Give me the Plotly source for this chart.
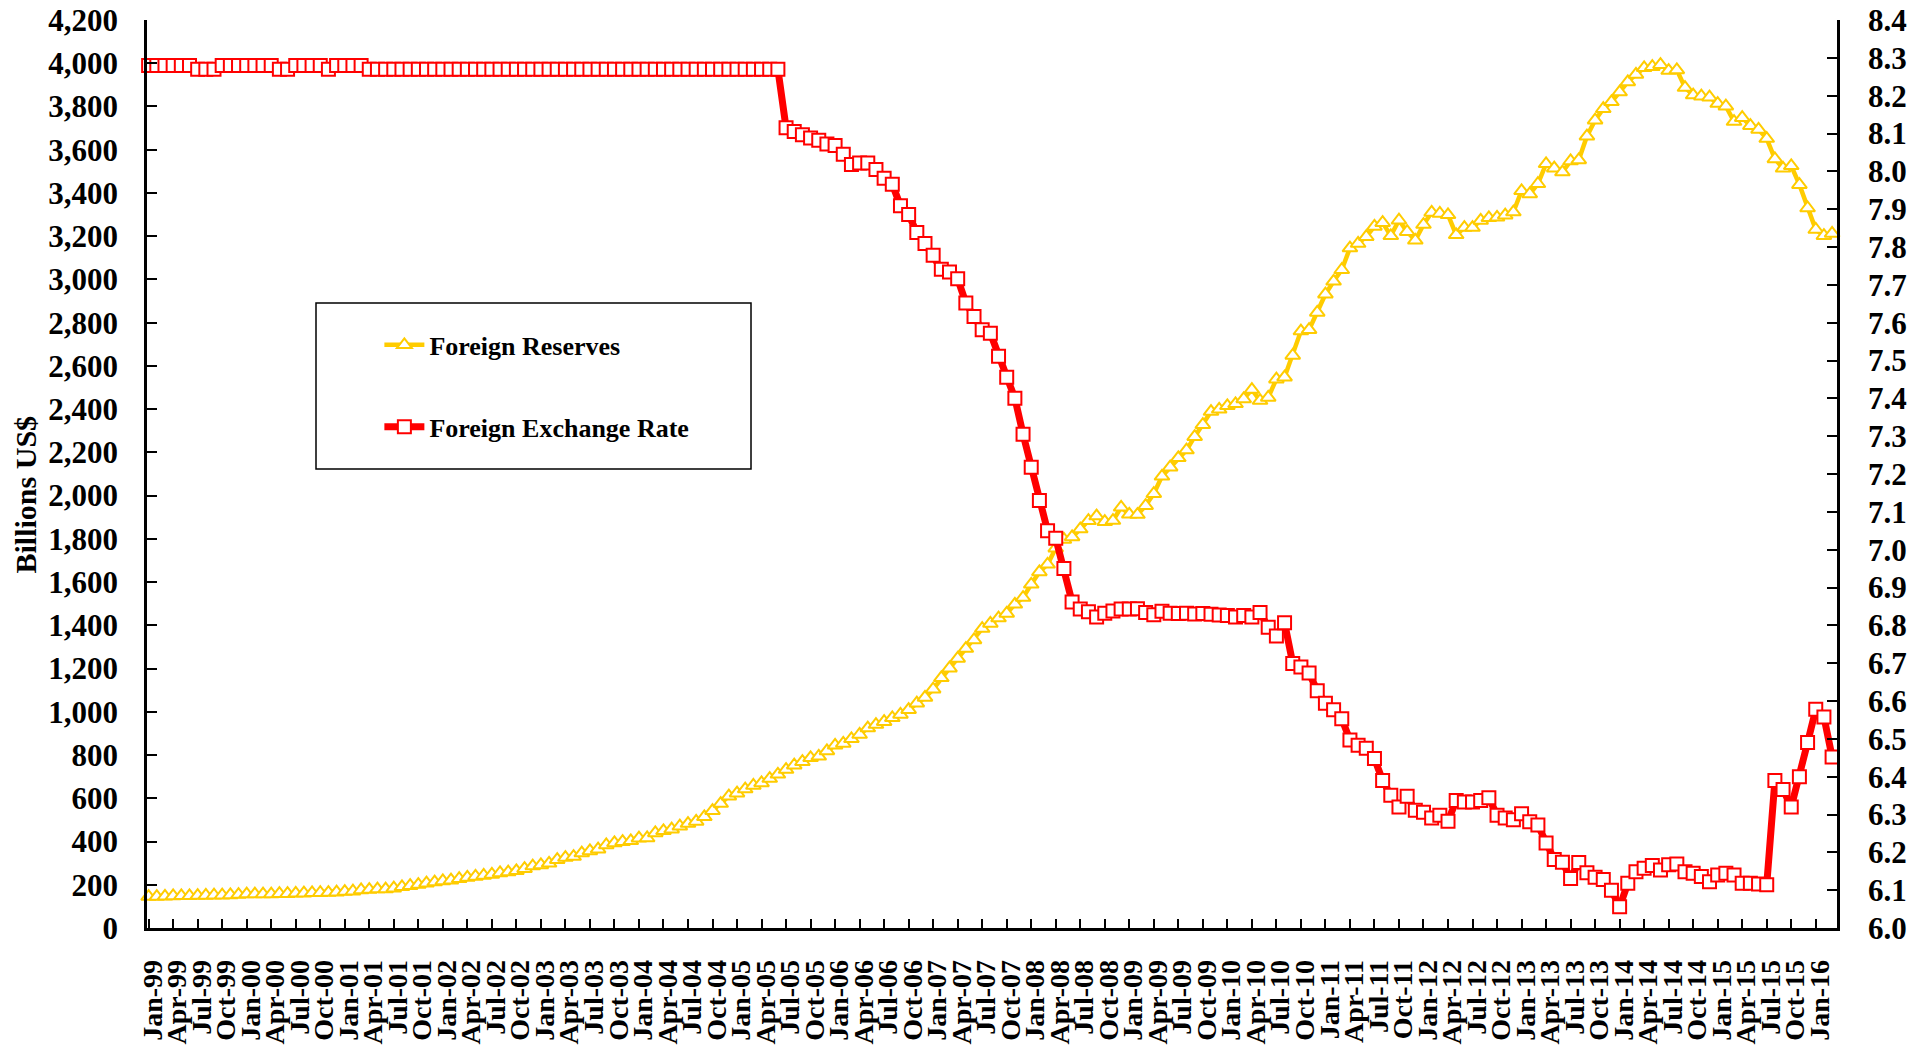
import pandas as pd
import plotly.graph_objects as go

# Foreign reserves, billions US$ (monthly, Jan-99 .. Mar-16)
reserves = [
    145.3, 145.5, 146.6, 148.1, 149.0, 149.0, 149.9, 150.9, 151.5, 152.0, 153.1, 154.7,
    156.8, 156.9, 157.0, 157.0, 158.7, 158.6, 160.5, 161.3, 162.9, 163.0, 163.7, 165.6,
    168.3, 170.0, 175.8, 178.0, 180.0, 180.1, 184.4, 190.4, 195.9, 201.1, 207.4, 212.2,
    217.5, 221.3, 227.8, 233.8, 238.6, 242.8, 248.0, 254.9, 258.6, 264.3, 274.2, 286.4,
    291.8, 299.3, 316.1, 326.0, 330.5, 346.5, 356.5, 364.7, 383.9, 393.7, 399.1, 403.3,
    415.7, 416.3, 439.8, 449.6, 457.3, 470.6, 483.0, 492.8, 514.5, 542.7, 575.4, 609.9,
    623.6, 642.6, 659.1, 670.9, 691.0, 711.0, 732.7, 753.3, 769.0, 787.2, 794.2, 818.9,
    845.2, 853.7, 875.1, 895.0, 925.0, 941.1, 954.5, 972.0, 987.9, 1009.6, 1040.0, 1066.3,
    1104.7, 1157.4, 1202.0, 1246.7, 1292.7, 1332.6, 1385.2, 1408.6, 1433.6, 1454.9, 1497.0, 1528.2,
    1589.8, 1647.1, 1682.2, 1756.7, 1797.0, 1808.8, 1845.2, 1884.3, 1905.6, 1879.7, 1884.7, 1946.0,
    1913.5, 1912.1, 1953.7, 2008.8, 2089.5, 2131.6, 2174.6, 2210.8, 2272.6, 2328.3, 2388.8, 2399.2,
    2415.2, 2424.6, 2447.1, 2490.5, 2439.5, 2454.3, 2538.6, 2547.8, 2648.3, 2760.9, 2767.8, 2847.3,
    2931.7, 2991.4, 3044.7, 3145.2, 3166.2, 3197.5, 3245.3, 3262.5, 3201.7, 3273.8, 3220.8, 3181.1,
    3253.6, 3309.7, 3305.0, 3298.9, 3206.1, 3240.0, 3239.9, 3272.9, 3285.1, 3287.4, 3297.4, 3311.6,
    3410.0, 3395.4, 3442.6, 3534.5, 3514.8, 3496.7, 3547.8, 3553.0, 3662.7, 3736.6, 3789.5, 3821.3,
    3866.6, 3913.7, 3948.1, 3978.8, 3983.9, 3993.2, 3966.3, 3968.8, 3887.7, 3852.9, 3847.4, 3843.0,
    3813.4, 3801.5, 3730.0, 3748.1, 3711.1, 3693.8, 3651.3, 3557.4, 3514.1, 3525.5, 3438.3, 3330.4,
    3230.9, 3202.3, 3212.6,
]

# Foreign exchange rate, CNY per USD (monthly, Jan-99 .. Mar-16)
fx_rate = [
    8.28, 8.28, 8.28, 8.28, 8.28, 8.28, 8.27, 8.27, 8.27, 8.28, 8.28, 8.28,
    8.28, 8.28, 8.28, 8.28, 8.27, 8.27, 8.28, 8.28, 8.28, 8.28, 8.27, 8.28,
    8.28, 8.28, 8.28, 8.27, 8.27, 8.27, 8.27, 8.27, 8.27, 8.27, 8.27, 8.27,
    8.27, 8.27, 8.27, 8.27, 8.27, 8.27, 8.27, 8.27, 8.27, 8.27, 8.27, 8.27,
    8.27, 8.27, 8.27, 8.27, 8.27, 8.27, 8.27, 8.27, 8.27, 8.27, 8.27, 8.27,
    8.27, 8.27, 8.27, 8.27, 8.27, 8.27, 8.27, 8.27, 8.27, 8.27, 8.27, 8.27,
    8.27, 8.27, 8.27, 8.27, 8.27, 8.27, 8.115, 8.105, 8.097, 8.088, 8.082, 8.072,
    8.068, 8.045, 8.018, 8.022, 8.022, 8.005, 7.982, 7.966, 7.909, 7.886, 7.838, 7.809,
    7.778, 7.741, 7.734, 7.716, 7.652, 7.616, 7.581, 7.572, 7.511, 7.456, 7.400, 7.305,
    7.218, 7.130, 7.050, 7.030, 6.950, 6.862, 6.843, 6.836, 6.822, 6.832, 6.838, 6.843,
    6.843, 6.844, 6.834, 6.828, 6.837, 6.832, 6.831, 6.832, 6.830, 6.831, 6.829, 6.827,
    6.826, 6.822, 6.826, 6.822, 6.834, 6.795, 6.772, 6.807, 6.699, 6.690, 6.674, 6.627,
    6.594, 6.577, 6.553, 6.497, 6.483, 6.475, 6.448, 6.390, 6.351, 6.320, 6.348, 6.311,
    6.306, 6.291, 6.298, 6.282, 6.337, 6.333, 6.333, 6.337, 6.344, 6.298, 6.291, 6.286,
    6.302, 6.281, 6.272, 6.225, 6.181, 6.174, 6.131, 6.173, 6.146, 6.134, 6.128, 6.100,
    6.056, 6.118, 6.149, 6.158, 6.165, 6.153, 6.167, 6.169, 6.149, 6.145, 6.136, 6.122,
    6.140, 6.145, 6.140, 6.118, 6.118, 6.116, 6.114, 6.390, 6.366, 6.320, 6.400, 6.490,
    6.578, 6.558, 6.452,
]

# Month categories (Jan-99 ...) and quarterly tick labels
months = pd.date_range("1999-01-01", periods=len(reserves), freq="MS").strftime("%b-%y").tolist()
tick_labels = months[::3]

left_ticks = list(range(0, 4201, 200))
right_ticks = [round(6.0 + 0.1 * i, 1) for i in range(25)]

FONT = "Liberation Serif"
YELLOW = "#FFCC00"
RED = "#FF0000"

fig = go.Figure()
fig.add_trace(go.Scatter(
    x=months, y=reserves, name="Foreign Reserves", mode="lines+markers",
    line=dict(color=YELLOW, width=4.5),
    marker=dict(symbol="triangle-up", size=13, color="white", line=dict(color=YELLOW, width=2)),
    legendgroup="a", cliponaxis=False, yaxis="y",
))
fig.add_trace(go.Scatter(
    x=months, y=fx_rate, name="Foreign Exchange Rate", mode="lines+markers",
    line=dict(color=RED, width=7),
    marker=dict(symbol="square", size=13, color="white", line=dict(color=RED, width=2)),
    legendgroup="b", cliponaxis=False, yaxis="y2",
))

tickfont = dict(family=FONT, size=31, color="black", weight="bold")
fig.update_layout(
    width=1925, height=1050,
    margin=dict(l=139, r=96, t=12, b=130, autoexpand=False),
    plot_bgcolor="white", paper_bgcolor="white",
    font=dict(family=FONT, color="black"),
    xaxis=dict(
        type="category", range=[-0.2, 206.6], automargin=False,
        tickmode="array", tickvals=tick_labels, ticktext=tick_labels,
        tickangle=-90, tickfont=dict(family=FONT, size=28, color="black", weight="bold"),
        ticks="inside", ticklen=9, tickwidth=2, tickcolor="black",
        showline=True, linecolor="black", linewidth=2.5, showgrid=False, zeroline=False,
        ticklabelstandoff=18, ticklabelshift=4, ticklabeloverflow="allow",
    ),
    yaxis=dict(
        range=[0, 4200], tickmode="array", tickvals=left_ticks, tickformat=",", automargin=False,
        tickfont=tickfont, ticks="inside", ticklen=10, tickwidth=2, tickcolor="black",
        showline=True, linecolor="black", linewidth=2.5, showgrid=False, zeroline=False,
        ticklabelstandoff=20, ticklabeloverflow="allow",
    ),
    yaxis2=dict(
        range=[6.0, 8.4], overlaying="y", side="right", anchor="x", automargin=False,
        tickmode="array", tickvals=right_ticks, tickformat=".1f",
        tickfont=tickfont, ticks="inside", ticklen=10, tickwidth=2, tickcolor="black",
        showline=True, linecolor="black", linewidth=2.5, showgrid=False, zeroline=False,
        ticklabelstandoff=22, ticklabeloverflow="allow",
    ),
    showlegend=True,
    legend=dict(
        x=0.1375, y=0.668, xanchor="left", yanchor="top",
        bgcolor="rgba(0,0,0,0)", borderwidth=0,
        font=dict(family=FONT, size=26, color="black", weight="bold"),
        tracegroupgap=45, itemwidth=40,
    ),
    shapes=[dict(
        type="rect", xref="paper", yref="paper",
        x0=0.1, x1=0.3574, y0=0.5055, y1=0.6883,
        line=dict(color="black", width=1.5), fillcolor="rgba(0,0,0,0)", layer="below",
    )],
    annotations=[dict(
        text="Billions US$", xref="paper", yref="paper", x=-0.0721, y=0.4776,
        textangle=-90, showarrow=False, xanchor="center", yanchor="middle",
        font=dict(family=FONT, size=30, color="black", weight="bold"),
    )],
)

fig.write_html("out.html")
